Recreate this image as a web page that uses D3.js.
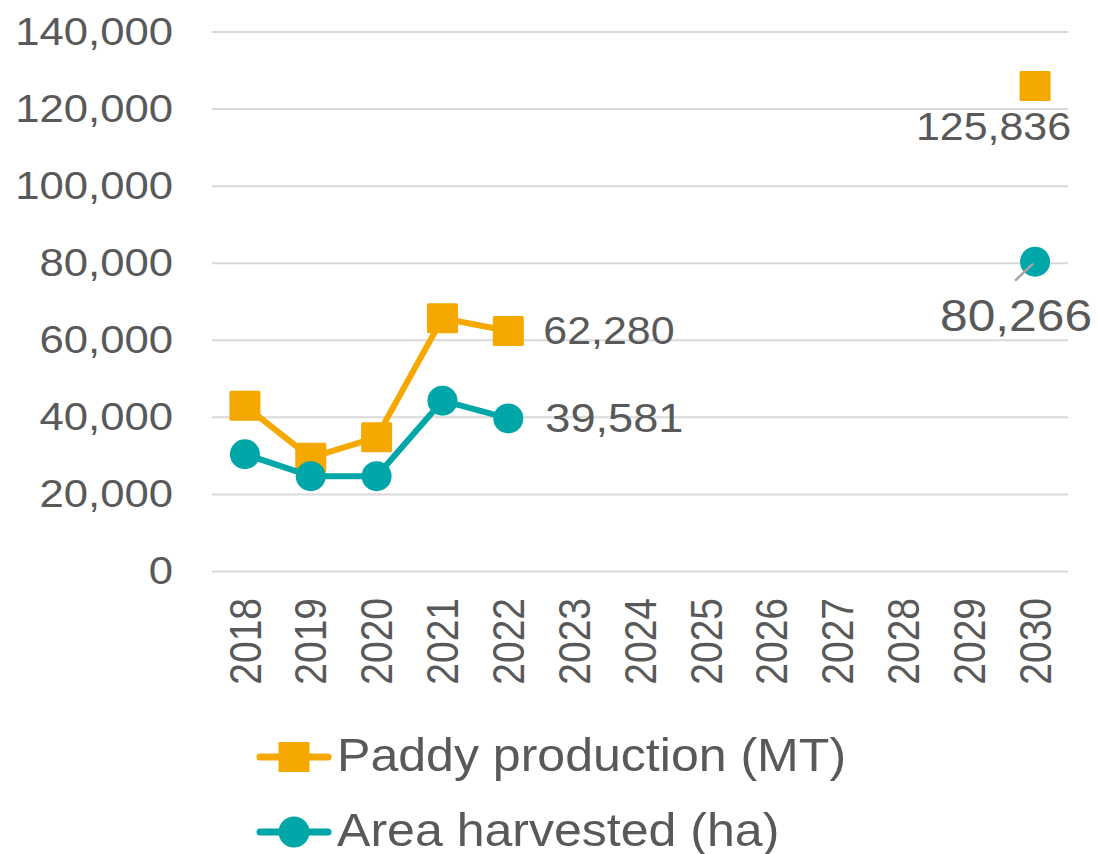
<!DOCTYPE html>
<html>
<head>
<meta charset="utf-8">
<script src="https://cdn.jsdelivr.net/npm/d3@7"></script>
<style>
  body { margin: 0; background: #fff; }
  text { font-family: "Liberation Sans", Arial, sans-serif; fill: #595959; }
</style>
</head>
<body>
<div id="chart-area"></div>
<script>
// data
var years = ["2018","2019","2020","2021","2022","2023","2024","2025","2026","2027","2028","2029","2030"];
var paddy = [42900, 29400, 34700, 65600, 62280, null, null, null, null, null, null, null, 125836];
var area  = [30300, 24600, 24600, 44200, 39581, null, null, null, null, null, null, null, 80266];
var yTicks = [0, 20000, 40000, 60000, 80000, 100000, 120000, 140000];
var seriesNames = ["Paddy production (MT)", "Area harvested (ha)"];

var orange = "#F5A800", teal = "#00A6A8";
var W = 1099, H = 854;
var plotLeft = 212, plotRight = 1068, plotTop = 31.5, plotBottom = 571;

var svg = d3.select("#chart-area").append("svg")
    .attr("width", W)
    .attr("height", H);

var x = d3.scaleBand().domain(years).range([plotLeft, plotRight]);
var y = d3.scaleLinear().domain([0, 140000]).range([plotBottom, plotTop]);
var cx = function(i) { return x(years[i]) + x.bandwidth() / 2; };

// pair each value with its index, drop the gaps for markers
var pts = function(arr) {
    return arr.map(function(v, i) { return {v: v, i: i}; })
              .filter(function(d) { return d.v != null; });
};

// gridlines
var grid = svg.append("g")
    .attr("transform", "translate(" + plotLeft + ",0)")
    .call(d3.axisRight(y).tickValues(yTicks).tickSize(plotRight - plotLeft).tickFormat(""));
grid.select(".domain").remove();
grid.selectAll("line").attr("stroke", "#d9d9d9").attr("stroke-width", 2);

// y tick labels (stretched a bit, like the original)
var yAx = svg.append("g")
    .attr("transform", "translate(173,0)")
    .call(d3.axisLeft(y).tickValues(yTicks).tickSize(0).tickPadding(0).tickFormat(d3.format(",")));
yAx.select(".domain").remove();
yAx.selectAll("text")
    .attr("x", 0)
    .attr("dy", "0.33em")
    .attr("font-size", "39px")
    .attr("fill", "#595959")
    .attr("font-family", "Liberation Sans, Arial, sans-serif")
    .attr("transform", "scale(1.12,1)");

// x tick labels, rotated
var xAx = svg.append("g")
    .attr("transform", "translate(0," + plotBottom + ")")
    .call(d3.axisBottom(x).tickSize(0).tickPadding(0));
xAx.select(".domain").remove();
xAx.selectAll("text")
    .attr("x", 0).attr("y", 0)
    .attr("dy", "0.36em")
    .attr("text-anchor", "end")
    .attr("font-size", "39px")
    .attr("fill", "#595959")
    .attr("font-family", "Liberation Sans, Arial, sans-serif")
    .attr("transform", "translate(0,27) scale(1.12,1) rotate(-90)");

var line = d3.line()
    .defined(function(d) { return d != null; })
    .x(function(d, i) { return cx(i); })
    .y(function(d) { return y(d); });

// paddy series
svg.append("path")
    .datum(paddy)
    .attr("d", line)
    .attr("fill", "none")
    .attr("stroke", orange)
    .attr("stroke-width", 6)
    .attr("stroke-linejoin", "round");

svg.selectAll("rect.paddy")
    .data(pts(paddy))
    .enter()
    .append("rect")
    .attr("class", "paddy")
    .attr("x", function(d) { return cx(d.i) - 15.5; })
    .attr("y", function(d) { return y(d.v) - 15; })
    .attr("width", 31)
    .attr("height", 30)
    .attr("rx", 1.5)
    .attr("fill", orange);

// area series
svg.append("path")
    .datum(area)
    .attr("d", line)
    .attr("fill", "none")
    .attr("stroke", teal)
    .attr("stroke-width", 6)
    .attr("stroke-linejoin", "round");

svg.selectAll("circle.area")
    .data(pts(area))
    .enter()
    .append("circle")
    .attr("class", "area")
    .attr("cx", function(d) { return cx(d.i); })
    .attr("cy", function(d) { return y(d.v); })
    .attr("r", 15)
    .attr("fill", teal);

// data labels
var fmt = d3.format(",");
var last = years.length - 1;
var labels = [
    {v: paddy[4], i: 4, dx: 35, dy: 0, mid: true, anchor: "start", size: 38},
    {v: area[4], i: 4, dx: 37, dy: 0, mid: true, anchor: "start", size: 40},
    {v: paddy[last], i: last, dx: 36, dy: 54, mid: false, anchor: "end", size: 38},
    {v: area[last], i: last, dx: 57, dy: 69, mid: false, anchor: "end", size: 44}
];

// leader line for the 2030 area label
svg.append("line")
    .attr("x1", cx(last) - 20)
    .attr("y1", y(area[last]) + 19)
    .attr("x2", cx(last) - 2)
    .attr("y2", y(area[last]) + 2)
    .attr("stroke", "#a6a6a6")
    .attr("stroke-width", 2.5);

svg.selectAll("text.lbl")
    .data(labels)
    .enter()
    .append("text")
    .attr("class", "lbl")
    .attr("transform", function(d) {
        return "translate(" + (cx(d.i) + d.dx) + "," + (y(d.v) + d.dy) + ") scale(1.13,1)";
    })
    .attr("dy", function(d) { return d.mid ? "0.35em" : 0; })
    .attr("text-anchor", function(d) { return d.anchor; })
    .attr("font-size", function(d) { return d.size + "px"; })
    .text(function(d) { return fmt(d.v); });

// legend
var legend = svg.selectAll("g.legend")
    .data(seriesNames)
    .enter()
    .append("g")
    .attr("class", "legend")
    .attr("transform", function(d, i) { return "translate(0," + (757 + i * 75) + ")"; });

legend.append("line")
    .attr("x1", 260).attr("x2", 328)
    .attr("y1", 0).attr("y2", 0)
    .attr("stroke", function(d, i) { return i == 0 ? orange : teal; })
    .attr("stroke-width", 7)
    .attr("stroke-linecap", "round");

legend.each(function(d, i) {
    var g = d3.select(this);
    if (i == 0) {
        g.append("rect")
            .attr("x", 278.5).attr("y", -15)
            .attr("width", 31).attr("height", 30)
            .attr("fill", orange);
    } else {
        g.append("circle")
            .attr("cx", 294).attr("cy", 0)
            .attr("r", 15.5)
            .attr("fill", teal);
    }
});

legend.append("text")
    .attr("transform", "translate(337,14) scale(1.065,1)")
    .attr("font-size", "47px")
    .text(function(d) { return d; });
</script>
</body>
</html>
